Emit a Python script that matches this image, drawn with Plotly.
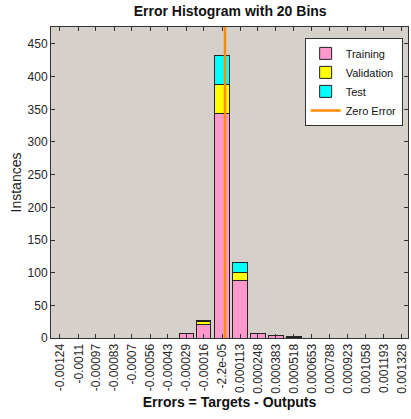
import plotly.graph_objects as go

# bin centres (as labelled) and counts per data split
bin_labels = ["-0.00124", "-0.0011", "-0.00097", "-0.00083", "-0.0007", "-0.00056",
              "-0.00043", "-0.00029", "-0.00016", "-2.2e-05", "0.000113", "0.000248",
              "0.000383", "0.000518", "0.000653", "0.000788", "0.000923", "0.001058",
              "0.001193", "0.001328"]
bin_centers = [float(s) for s in bin_labels]
training = [0, 0, 0, 0, 0, 0, 0, 7, 20, 344, 88, 7, 4, 1, 0, 0, 0, 0, 0, 0]
validation = [0, 0, 0, 0, 0, 0, 0, 0, 5, 44, 12, 0, 0, 0, 0, 0, 0, 0, 0, 0]
test = [0, 0, 0, 0, 0, 0, 0, 0, 2, 44, 15, 0, 0, 1, 0, 0, 0, 0, 0, 0]
zero_error = 0.0
y_max = 476

bin_w = 0.000135
font_family = "Liberation Sans, Arial"

fig = go.Figure()
for name, vals, color in [("Training", training, "#ff99cc"),
                          ("Validation", validation, "#ffff00"),
                          ("Test", test, "#00ffff")]:
    fig.add_trace(go.Bar(
        x=bin_centers, y=vals, name=name, width=0.8 * bin_w,
        marker=dict(color=color, line=dict(color="#222222", width=1)),
    ))

fig.add_trace(go.Scatter(
    x=[zero_error, zero_error], y=[0, y_max], mode="lines",
    line=dict(color="#ff8c00", width=2.5), name="Zero Error",
))

fig.update_layout(
    width=411, height=419,
    barmode="stack",
    paper_bgcolor="white",
    plot_bgcolor="#d5d1ca",
    margin=dict(l=51, r=3, t=27, b=81, autoexpand=False),
    font=dict(family=font_family, size=12, color="#262626"),
    title=dict(text="<b>Error Histogram with 20 Bins</b>", x=0.56, xanchor="center",
               y=0.985, yanchor="top", automargin=False,
               font=dict(size=14, color="#111111")),
    legend=dict(x=0.985, y=0.965, xanchor="right", yanchor="top", bgcolor="white",
                bordercolor="#333333", borderwidth=1, traceorder="normal",
                font=dict(size=11, color="#111111"), itemwidth=30,
                tracegroupgap=0),
    showlegend=True,
)
fig.update_xaxes(
    range=[bin_centers[0] - 0.5 * bin_w, bin_centers[-1] + 0.35 * bin_w],
    tickvals=bin_centers, ticktext=bin_labels, tickangle=-90,
    ticks="inside", ticklen=4, tickcolor="#333333", mirror="ticks", automargin=False,
    showline=True, linecolor="#333333", linewidth=1, showgrid=False, zeroline=False,
    title=dict(text="<b>Errors = Targets - Outputs</b>", standoff=0,
               font=dict(size=14, color="#111111")),
    tickfont=dict(size=12),
)
fig.update_yaxes(
    range=[0, y_max], tickvals=list(range(0, 451, 50)),
    ticks="inside", ticklen=4, tickcolor="#333333", mirror="ticks", automargin=False,
    showline=True, linecolor="#333333", linewidth=1, showgrid=False, zeroline=False,
    title=dict(text="Instances", standoff=2, font=dict(size=14, color="#222222")),
    tickfont=dict(size=12),
)

fig.write_html("out.html", config={"displayModeBar": False},
               post_script="document.body.style.margin='0px';")
